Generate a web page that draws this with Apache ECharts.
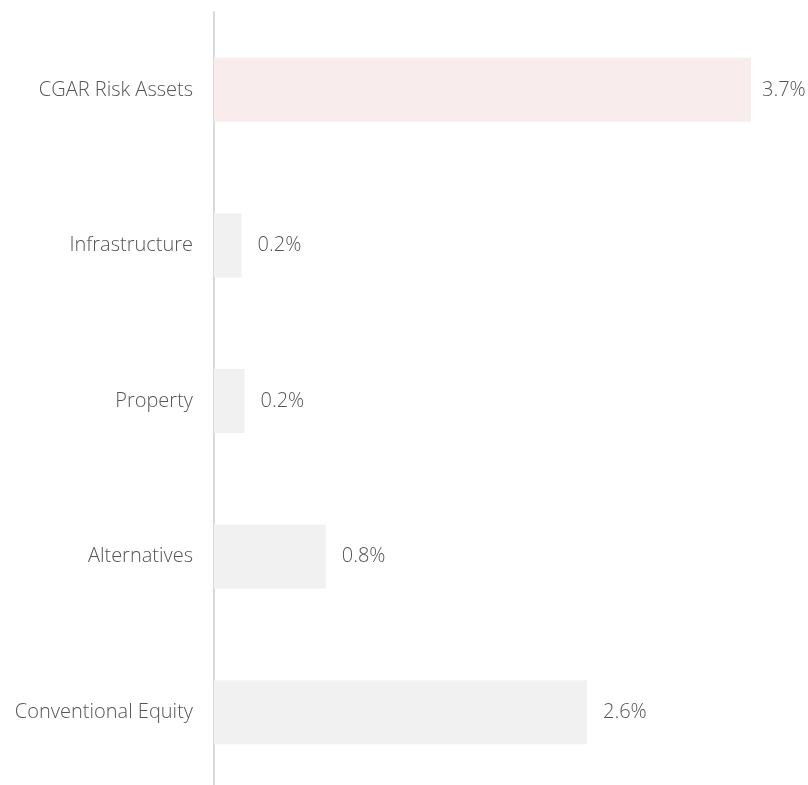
<!DOCTYPE html>
<html>
<head>
<meta charset="utf-8">
<style>
  html, body { margin: 0; padding: 0; background: #fff; overflow: hidden; }
  /* a few px taller than the window: the axis runs off the bottom edge */
  #chart { width: 808px; height: 792px; }
</style>
<script src="https://cdn.jsdelivr.net/npm/echarts@6/dist/echarts.min.js"></script>
</head>
<body>
<div id="chart"></div>
<script>
// categories, top to bottom
const categories = ['CGAR Risk Assets', 'Infrastructure', 'Property', 'Alternatives', 'Conventional Equity']
// returns in %
const values = [3.7, 0.19, 0.21, 0.77, 2.57]
const labels = ['3.7%', '0.2%', '0.2%', '0.8%', '2.6%']
const barColors = ['#f8ecec', '#f0f1f0', '#f0f1f0', '#f0f1f0', '#f0f1f0']

const chart = echarts.init(document.getElementById('chart'))
const font = '"Open Sans", sans-serif'

const seriesData = values.map((v, i) => ({
  value: v,
  itemStyle: { color: barColors[i] },
  // the top label sits a bit closer to its bar so it fits the page
  label: { formatter: labels[i], distance: i === 0 ? 11 : 16 }
}))

chart.setOption({
  animation: false,
  grid: { left: 214, width: 580.5, top: 12, height: 778 },
  xAxis: { type: 'value', min: 0, max: 4, show: false },
  yAxis: {
    type: 'category',
    inverse: true,
    data: categories,
    axisLine: { show: true, lineStyle: { color: '#c9cece', width: 1.5 } },
    axisTick: { show: false },
    axisLabel: {
      margin: 21,
      color: '#555',
      fontSize: 20,
      fontWeight: 300,
      fontFamily: font
    }
  },
  series: [
    {
      type: 'bar',
      barWidth: 64,
      data: seriesData,
      label: {
        show: true,
        position: 'right',
        color: '#555',
        fontSize: 20,
        fontWeight: 300,
        fontFamily: font
      }
    }
  ]
})
</script>
</body>
</html>
